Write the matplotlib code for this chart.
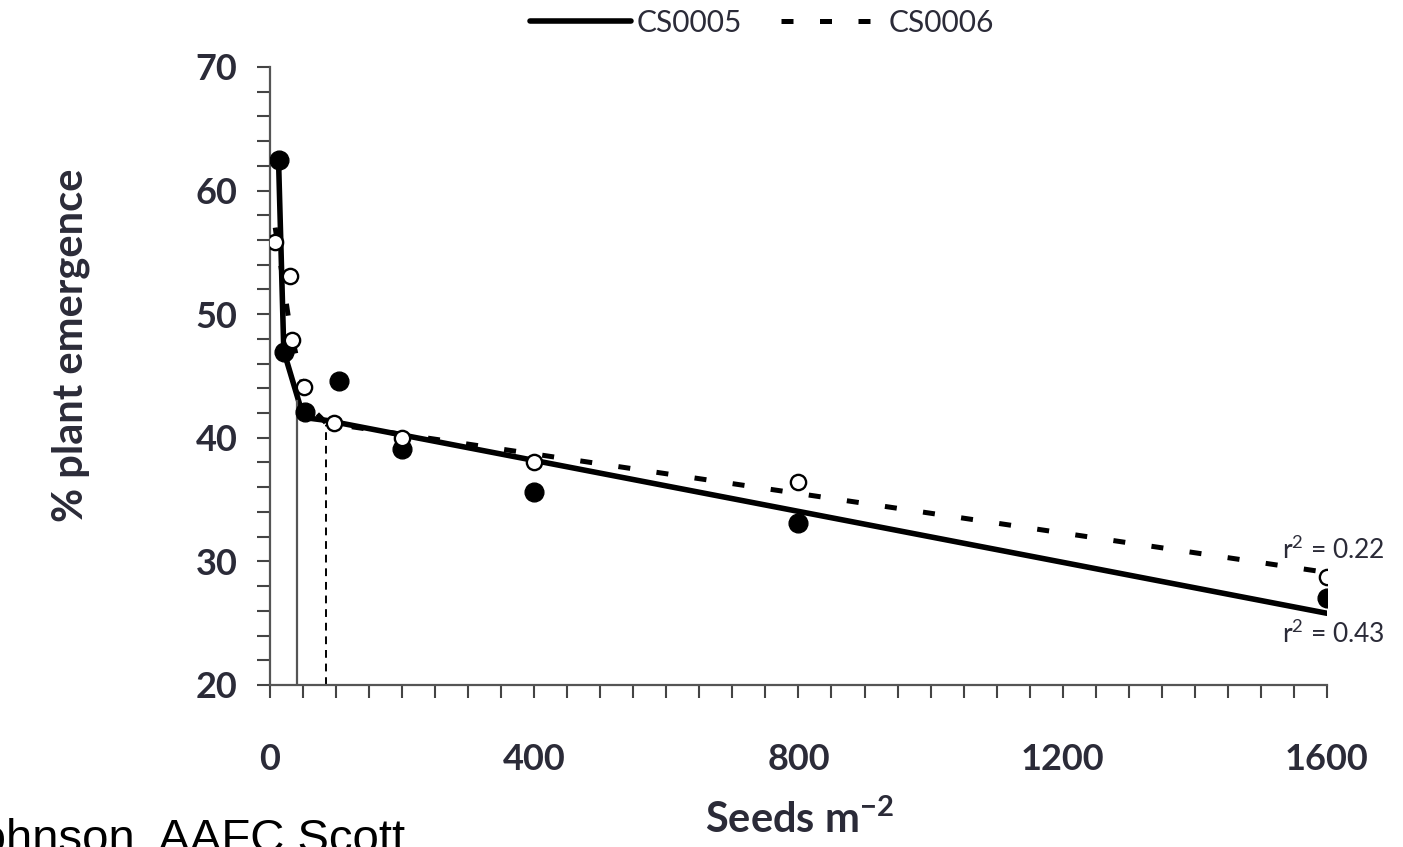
import numpy as np
import matplotlib
matplotlib.use('Agg')
import matplotlib.pyplot as plt
from matplotlib.ticker import MultipleLocator

plt.rcParams['font.family'] = ['Lato', 'DejaVu Sans']
plt.rcParams['mathtext.default'] = 'regular'

# observed points
x_cs0005 = [13, 21, 53, 104, 200, 400, 800, 1600]
y_cs0005 = [62.5, 46.9, 42.1, 44.6, 39.1, 35.6, 33.1, 27.0]
x_cs0006 = [8, 30, 33, 51, 97, 200, 400, 800, 1600]
y_cs0006 = [55.8, 53.1, 47.9, 44.1, 41.2, 40.0, 38.0, 36.4, 28.7]

# fitted segmented lines
fit5_x = [13, 21, 45, 57, 86, 1600]
fit5_y = [62.5, 47.0, 42.7, 41.6, 41.4, 25.8]
fit6_x = [8, 30, 50, 70, 85, 1600]
fit6_y = [57.0, 49.0, 44.2, 42.0, 41.2, 29.1]

# breakpoints
bp5_x, bp5_y = 41, 43.0
bp6_x, bp6_y = 85, 41.0

txt = '#2b2b38'

fig = plt.figure(figsize=(14.03, 8.47), dpi=100)
ax = fig.add_axes([0.1924, 0.1913, 0.7534, 0.7297])

l5, = ax.plot(fit5_x, fit5_y, color='black', lw=4.0, solid_capstyle='round',
              label='CS0005')
l6, = ax.plot(fit6_x, fit6_y, color='black', lw=3.6, dashes=(2.4, 5.3),
              label='CS0006')
ax.plot([bp5_x, bp5_x], [20, bp5_y], color='#555555', lw=1.6)
ax.plot([bp6_x, bp6_x], [20, bp6_y], color='black', lw=1.4, dashes=(4, 3))

ax.plot(x_cs0005, y_cs0005, 'o', color='black', ms=13.5, zorder=4)
ax.plot(x_cs0006, y_cs0006, 'o', mfc='white', mec='black', mew=1.7, ms=11,
        zorder=5)

ax.text(1688, 30.9, 'r$^2$ = 0.22', ha='right', va='center', fontsize=19,
        color=txt)
ax.text(1688, 24.1, 'r$^2$ = 0.43', ha='right', va='center', fontsize=19,
        color=txt)

ax.set_xlim(0, 1600)
ax.set_ylim(20, 70)
ax.xaxis.set_major_locator(MultipleLocator(400))
ax.xaxis.set_minor_locator(MultipleLocator(50))
ax.yaxis.set_major_locator(MultipleLocator(10))
ax.yaxis.set_minor_locator(MultipleLocator(2))

for s in ['top', 'right']:
    ax.spines[s].set_visible(False)
for s in ['left', 'bottom']:
    ax.spines[s].set_color('#555555')
    ax.spines[s].set_linewidth(1.6)

ax.tick_params(which='both', direction='out', length=9.5, width=1.5,
               color='#444444')
ax.tick_params(axis='x', which='major', pad=32, labelsize=26)
ax.tick_params(axis='y', which='major', pad=14, labelsize=26)
for lab in ax.get_xticklabels() + ax.get_yticklabels():
    lab.set_fontweight('bold')
    lab.set_color(txt)

ax.set_xlabel('Seeds m$^{-2}$', fontsize=30, fontweight='bold', color=txt)
ax.xaxis.set_label_coords(0.501, -0.185)
ax.set_ylabel('% plant emergence', fontsize=30, fontweight='bold', color=txt)
ax.yaxis.set_label_coords(-0.17, 0.55)

fig.legend(handles=[l5, l6], loc='center', bbox_to_anchor=(0.543, 0.973),
           ncol=2, frameon=False, fontsize=21.5, handlelength=3.4,
           handletextpad=0.2, columnspacing=1.3, labelcolor=txt)

fig.text(405 / 1403, -0.006, 'Johnson, AAFC Scott', ha='right',
         va='baseline', fontsize=34, family='Liberation Sans', color='black')

fig.savefig('out.png', dpi=100)
